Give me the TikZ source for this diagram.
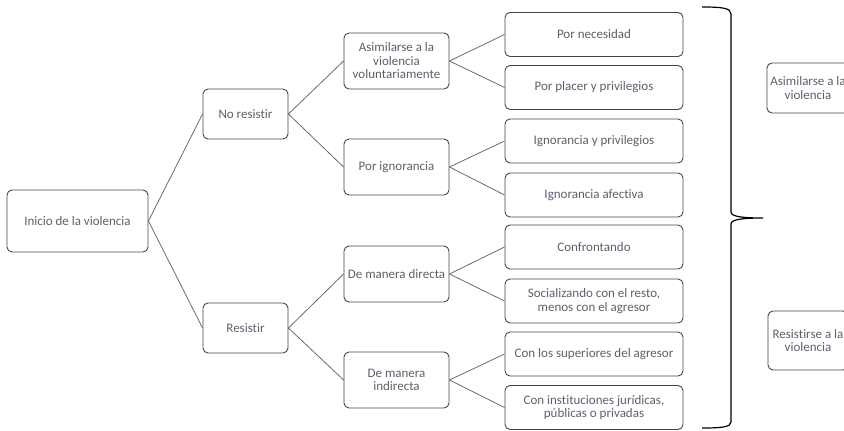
\documentclass[tikz,border=0pt]{standalone}
\usepackage{fontspec}
\setmainfont{Carlito}[Ligatures=NoCommon]
\definecolor{boxline}{HTML}{3E4753}
\definecolor{boxtext}{HTML}{59616C}
\definecolor{linkline}{HTML}{646C76}
\tikzset{
  box/.style={draw=boxline, line width=0.9pt, rounded corners=5pt, align=center,
    text=boxtext, font=\fontsize{13}{13.5}\selectfont, inner sep=1pt},
  leafbox/.style={box, minimum width=178pt, minimum height=44pt},
  midbox/.style={box, minimum width=105pt, minimum height=56pt},
  topbox/.style={box, minimum width=85pt, minimum height=50pt},
  link/.style={draw=linkline, line width=0.8pt}
}
\begin{document}
\begin{tikzpicture}[x=1pt, y=-1pt]
      \useasboundingbox (0,0) rectangle (844,431);
      \clip (0,0) rectangle (844,431);
      \draw
        (77.5,221) node[box, minimum width=141pt, minimum height=62pt] (root){Inicio de la violencia}
        (245.5,114) node[topbox] (nores){No resistir}
        (245.5,328) node[topbox] (res){Resistir}
        (396.5,61) node[midbox] (asim){Asimilarse a la\\violencia\\voluntariamente}
        (396.5,167) node[midbox] (ignor){Por ignorancia}
        (396.5,274) node[midbox] (direc){De manera directa}
        (396.5,380) node[midbox] (indir){De manera\\indirecta}
        (594,34.5) node[leafbox] (l1){Por necesidad}
        (594,87.5) node[leafbox] (l2){Por placer y privilegios}
        (594,141) node[leafbox] (l3){Ignorancia y privilegios}
        (594,195) node[leafbox] (l4){Ignorancia afectiva}
        (594,247) node[leafbox] (l5){Confrontando}
        (594,301) node[leafbox] (l6){Socializando con el resto,\\menos con el agresor}
        (594,354) node[leafbox] (l7){Con los superiores del agresor}
        (594,407.5) node[leafbox] (l8){Con instituciones jurídicas,\\públicas o privadas}
        (808,88) node[box, minimum width=82pt, minimum height=50pt] (sumasim){Asimilarse a la\\violencia}
        (808,340.5) node[box, minimum width=80pt, minimum height=59pt] (sumres){Resistirse a la\\violencia};
      \begin{scope}[link]
        \draw (root.east) to (nores.west);
        \draw (root.east) to (res.west);
        \draw (nores.east) to (asim.west);
        \draw (nores.east) to (ignor.west);
        \draw (res.east) to (direc.west);
        \draw (res.east) to (indir.west);
        \draw (asim.east) to (l1.west);
        \draw (asim.east) to (l2.west);
        \draw (ignor.east) to (l3.west);
        \draw (ignor.east) to (l4.west);
        \draw (direc.east) to (l5.west);
        \draw (direc.east) to (l6.west);
        \draw (indir.east) to (l7.west);
        \draw (indir.east) to (l8.west);
      \end{scope}
      % brace
      \draw[line width=1.2pt]
        (702,7) .. controls (722,7) and (731,8) .. (731,14)
        -- (731,212) .. controls (731,217) and (745,218) .. (763,218)
        .. controls (745,218) and (731,219) .. (731,224)
        -- (731,422) .. controls (731,427) and (722,428) .. (702,428);
    \end{tikzpicture}
\end{document}
